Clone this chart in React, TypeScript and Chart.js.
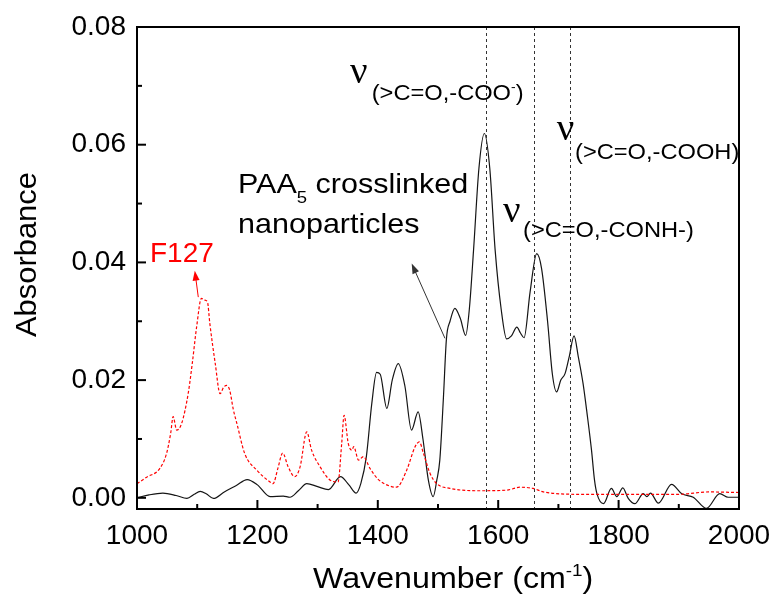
import { useEffect, useRef } from "react";
import { Chart, registerables } from "chart.js";

Chart.register(...registerables);

// ---------------- data ----------------
const paaWavenumbers = [
  1000, 1020, 1043, 1065, 1083, 1095, 1105, 1115, 1127, 1145, 1165, 1183, 1200, 1221, 1243, 1254,
  1268, 1282, 1300, 1318, 1338, 1352, 1364, 1372, 1381, 1390, 1398, 1404, 1415, 1424, 1434, 1445,
  1456, 1467, 1475, 1484, 1492, 1498, 1503, 1509, 1514, 1520, 1528, 1537, 1546, 1552, 1559, 1568,
  1577, 1586, 1595, 1605, 1614, 1622, 1631, 1637, 1643, 1653, 1664, 1672, 1682, 1690, 1697, 1704,
  1711, 1718, 1726, 1733, 1741, 1748, 1755, 1760, 1764, 1775, 1788, 1797, 1807, 1816, 1827, 1841,
  1847, 1853, 1866, 1888, 1905, 1924, 1946, 1968, 1982, 2000,
];
const paaAbsorbance = [
  0.0, 0.0005, 0.0008, 0.0004, -0.0001, 0.0006, 0.0011, 0.0007, -0.0001, 0.001, 0.0021, 0.0031,
  0.0022, 0.0002, 0.0003, 0.0001, 0.0012, 0.0024, 0.0019, 0.0014, 0.0036, 0.0022, 0.0008, 0.0025,
  0.007, 0.016, 0.0213, 0.021, 0.0152, 0.02, 0.0228, 0.019, 0.0115, 0.0146, 0.01, 0.003, 0.0002,
  0.003, 0.0064, 0.017, 0.027, 0.03, 0.0322, 0.0305, 0.0276, 0.032, 0.042, 0.056, 0.0619, 0.056,
  0.042, 0.032, 0.027, 0.0275, 0.029, 0.028, 0.0272, 0.035, 0.0415, 0.039, 0.03, 0.021, 0.018,
  0.02, 0.0211, 0.024, 0.0275, 0.024, 0.0194, 0.014, 0.0081, 0.003, 0.0007, -0.001, 0.0016,
  0.0002, 0.0017, -0.0001, -0.001, 0.0007, 0.0002, 0.0008, -0.0009, 0.0023, 0.0007, 0.0001,
  -0.0018, 0.0007, 0.0001, 0.0001,
];
const f127Wavenumbers = [
  1000, 1016, 1038, 1049, 1056, 1060, 1066, 1074, 1085, 1092, 1099, 1107, 1112, 1117, 1121, 1130,
  1138, 1144, 1149, 1154, 1160, 1166, 1179, 1199, 1221, 1226, 1234, 1242, 1251, 1262, 1271, 1282,
  1290, 1304, 1321, 1334, 1340, 1344, 1351, 1357, 1360, 1368, 1376, 1387, 1401, 1420, 1431, 1448,
  1462, 1469, 1476, 1487, 1498, 1520, 1570, 1614, 1636, 1658, 1675, 1736, 1800, 1900, 1950, 2000,
];
const f127Absorbance = [
  0.0024, 0.0035, 0.005, 0.0075, 0.011, 0.0138, 0.0115, 0.0126, 0.0177, 0.023, 0.029, 0.0339,
  0.0336, 0.0333, 0.0296, 0.0228, 0.0177, 0.0188, 0.0191, 0.0183, 0.015, 0.0126, 0.0075, 0.0047,
  0.0027, 0.0024, 0.005, 0.0076, 0.0053, 0.0036, 0.0053, 0.0112, 0.0081, 0.0053, 0.003, 0.0027,
  0.0092, 0.014, 0.0092, 0.0081, 0.0087, 0.0064, 0.007, 0.005, 0.0031, 0.002, 0.0018, 0.0047,
  0.0087, 0.0095, 0.0075, 0.0041, 0.0024, 0.0016, 0.0012, 0.0013, 0.0018, 0.0016, 0.001, 0.0006,
  0.0006, 0.0006, 0.001, 0.0009,
];
const xTicks = [1000, 1200, 1400, 1600, 1800, 2000];
const xMinorTicks = [1100, 1300, 1500, 1700, 1900];
const yTicks = [0, 0.02, 0.04, 0.06, 0.08];
const yMinorTicks = [0.01, 0.03, 0.05, 0.07];
const bandPositions = [1580, 1660, 1720];

// ---------------- styling / annotations ----------------
const SANS = '"Liberation Sans", Arial, sans-serif';
const SERIF = '"Liberation Serif", "Times New Roman", serif';

type Run = { t: string; size: number; family?: string; dy?: number };
type Label = { wn: number; ab: number; runs: Run[]; color: string; sx: number };

const SUB = 22;
const SUBX = 1.075;
const labels: Label[] = [
  { wn: 1167.8, ab: 0.05175, color: "#000", sx: 1.09, runs: [
    { t: "PAA", size: 28 }, { t: "5", size: 17, dy: 10 }, { t: " crosslinked", size: 28 } ] },
  { wn: 1167.8, ab: 0.04496, color: "#000", sx: 1.09, runs: [{ t: "nanoparticles", size: 28 }] },
  { wn: 1021.6, ab: 0.04008, color: "#ff0000", sx: 1, runs: [{ t: "F127", size: 28 }] },
  { wn: 1353.8, ab: 0.07049, color: "#000", sx: 1.05, runs: [{ t: "ν", size: 37, family: SERIF }] },
  { wn: 1389.9, ab: 0.06767, color: "#000", sx: SUBX, runs: [
    { t: "(>C=O,-COO", size: SUB }, { t: "-", size: 13, dy: -9 }, { t: ")", size: SUB } ] },
  { wn: 1697.2, ab: 0.06076, color: "#000", sx: 1.05, runs: [{ t: "ν", size: 37, family: SERIF }] },
  { wn: 1727.6, ab: 0.05765, color: "#000", sx: SUBX, runs: [{ t: "(>C=O,-COOH)", size: SUB }] },
  { wn: 1608, ab: 0.04688, color: "#000", sx: 1.05, runs: [{ t: "ν", size: 37, family: SERIF }] },
  { wn: 1641.2, ab: 0.04433, color: "#000", sx: SUBX, runs: [{ t: "(>C=O,-CONH-)", size: SUB }] },
];

const arrows = [
  { from: [1511.6, 0.0271], to: [1456.3, 0.0398], color: "#333" },
  { from: [1101.8, 0.0341], to: [1096, 0.0386], color: "#ff0000" },
];

function drawRuns(ctx: CanvasRenderingContext2D, runs: Run[], x: number, y: number, sx: number, color: string) {
  ctx.save();
  ctx.translate(x, y);
  ctx.scale(sx, 1);
  ctx.fillStyle = color;
  ctx.textAlign = "left";
  ctx.textBaseline = "alphabetic";
  let cx = 0;
  for (const r of runs) {
    ctx.font = `${r.size}px ${r.family ?? SANS}`;
    ctx.fillText(r.t, cx, r.dy ?? 0);
    cx += ctx.measureText(r.t).width;
  }
  ctx.restore();
}

function drawArrow(ctx: CanvasRenderingContext2D, x1: number, y1: number, x2: number, y2: number, color: string) {
  const ang = Math.atan2(y2 - y1, x2 - x1);
  const len = 10, hw = 3.5;
  ctx.save();
  ctx.strokeStyle = color;
  ctx.fillStyle = color;
  ctx.lineWidth = 1;
  ctx.beginPath();
  ctx.moveTo(x1, y1);
  ctx.lineTo(x2 - Math.cos(ang) * len * 0.8, y2 - Math.sin(ang) * len * 0.8);
  ctx.stroke();
  ctx.beginPath();
  ctx.moveTo(x2, y2);
  ctx.lineTo(x2 - Math.cos(ang) * len - Math.sin(ang) * hw, y2 - Math.sin(ang) * len + Math.cos(ang) * hw);
  ctx.lineTo(x2 - Math.cos(ang) * len + Math.sin(ang) * hw, y2 - Math.sin(ang) * len - Math.cos(ang) * hw);
  ctx.closePath();
  ctx.fill();
  ctx.restore();
}

export default function App() {
  const ref = useRef<HTMLCanvasElement>(null);

  useEffect(() => {
    document.body.style.margin = "0";
    const canvas = ref.current;
    if (!canvas) return;

    const overlay = {
      id: "overlay",
      afterDatasetsDraw(chart: any) {
        const ctx: CanvasRenderingContext2D = chart.ctx;
        const xs = chart.scales.x;
        const ys = chart.scales.y;
        const X = (v: number) => xs.getPixelForValue(v);
        const Y = (v: number) => ys.getPixelForValue(v);
        const { left, right, top, bottom } = chart.chartArea;
        ctx.save();
        // band marker lines
        ctx.strokeStyle = "#333";
        ctx.lineWidth = 1;
        ctx.setLineDash([3, 3]);
        for (const w of bandPositions) {
          const x = Math.round(X(w)) + 0.5;
          ctx.beginPath();
          ctx.moveTo(x, top);
          ctx.lineTo(x, bottom + 3);
          ctx.stroke();
        }
        ctx.setLineDash([]);
        // frame
        ctx.strokeStyle = "#000";
        ctx.lineWidth = 2;
        ctx.strokeRect(left, top, right - left, bottom - top);
        // inward ticks
        const tick = (x1: number, y1: number, x2: number, y2: number) => {
          ctx.beginPath();
          ctx.moveTo(x1, y1);
          ctx.lineTo(x2, y2);
          ctx.stroke();
        };
        for (const v of xTicks) tick(X(v), bottom, X(v), bottom - 9);
        for (const v of xMinorTicks) tick(X(v), bottom, X(v), bottom - 5);
        for (const v of yTicks) tick(left, Y(v), left + 9, Y(v));
        for (const v of yMinorTicks) tick(left, Y(v), left + 5, Y(v));
        // labels
        for (const l of labels) drawRuns(ctx, l.runs, X(l.wn), Y(l.ab), l.sx, l.color);
        for (const a of arrows) drawArrow(ctx, X(a.from[0]), Y(a.from[1]), X(a.to[0]), Y(a.to[1]), a.color);
        // axis titles
        ctx.save();
        ctx.translate(36, 337);
        ctx.rotate(-Math.PI / 2);
        drawRuns(ctx, [{ t: "Absorbance", size: 30 }], 0, 0, 1.03, "#000");
        ctx.restore();
        drawRuns(
          ctx,
          [{ t: "Wavenumber (cm", size: 29 }, { t: "-1", size: 17, dy: -12 }, { t: ")", size: 29 }],
          313, 588, 1.11, "#000"
        );
        ctx.restore();
      },
    };

    const chart = new Chart(canvas, {
      type: "line",
      data: {
        datasets: [
          {
            label: "F127",
            data: f127Wavenumbers.map((w, i) => ({ x: w, y: f127Absorbance[i] })),
            borderColor: "#ff0000",
            borderWidth: 1.2,
            borderDash: [3, 2],
            pointRadius: 0,
            tension: 0.3,
            cubicInterpolationMode: "monotone",
          },
          {
            label: "PAA5 crosslinked nanoparticles",
            data: paaWavenumbers.map((w, i) => ({ x: w, y: paaAbsorbance[i] })),
            borderColor: "#151515",
            borderWidth: 1.2,
            pointRadius: 0,
            tension: 0.4,
            cubicInterpolationMode: "monotone",
          },
        ],
      },
      options: {
        animation: false,
        responsive: false,
        devicePixelRatio: 1,
        layout: { padding: { top: 27, right: 38, left: 0, bottom: 0 } },
        plugins: { legend: { display: false }, tooltip: { enabled: false } },
        scales: {
          x: {
            type: "linear",
            min: 1000,
            max: 2000,
            afterBuildTicks: (s: any) => { s.ticks = xTicks.map((value) => ({ value })); },
            afterFit: (s: any) => {
              s.height = 89;
              s.paddingLeft = 0;
              s.paddingRight = 0;
            },
            grid: { display: false, drawTicks: false },
            border: { display: false },
            ticks: {
              color: "#000",
              padding: 10,
              maxRotation: 0,
              autoSkip: false,
              font: { family: SANS, size: 28 },
              callback: (v: any) => String(v),
            },
          },
          y: {
            type: "linear",
            min: -0.0019,
            max: 0.08,
            afterBuildTicks: (s: any) => { s.ticks = yTicks.map((value) => ({ value })); },
            afterFit: (s: any) => {
              s.width = 137;
              s.paddingTop = 0;
              s.paddingBottom = 0;
            },
            grid: { display: false, drawTicks: false },
            border: { display: false },
            ticks: {
              color: "#000",
              padding: 11,
              autoSkip: false,
              font: { family: SANS, size: 28 },
              callback: (v: any) => Number(v).toFixed(2),
            },
          },
        },
      },
      plugins: [overlay],
    });
    return () => chart.destroy();
  }, []);

  return <canvas ref={ref} width={777} height={598} style={{ display: "block" }} />;
}
